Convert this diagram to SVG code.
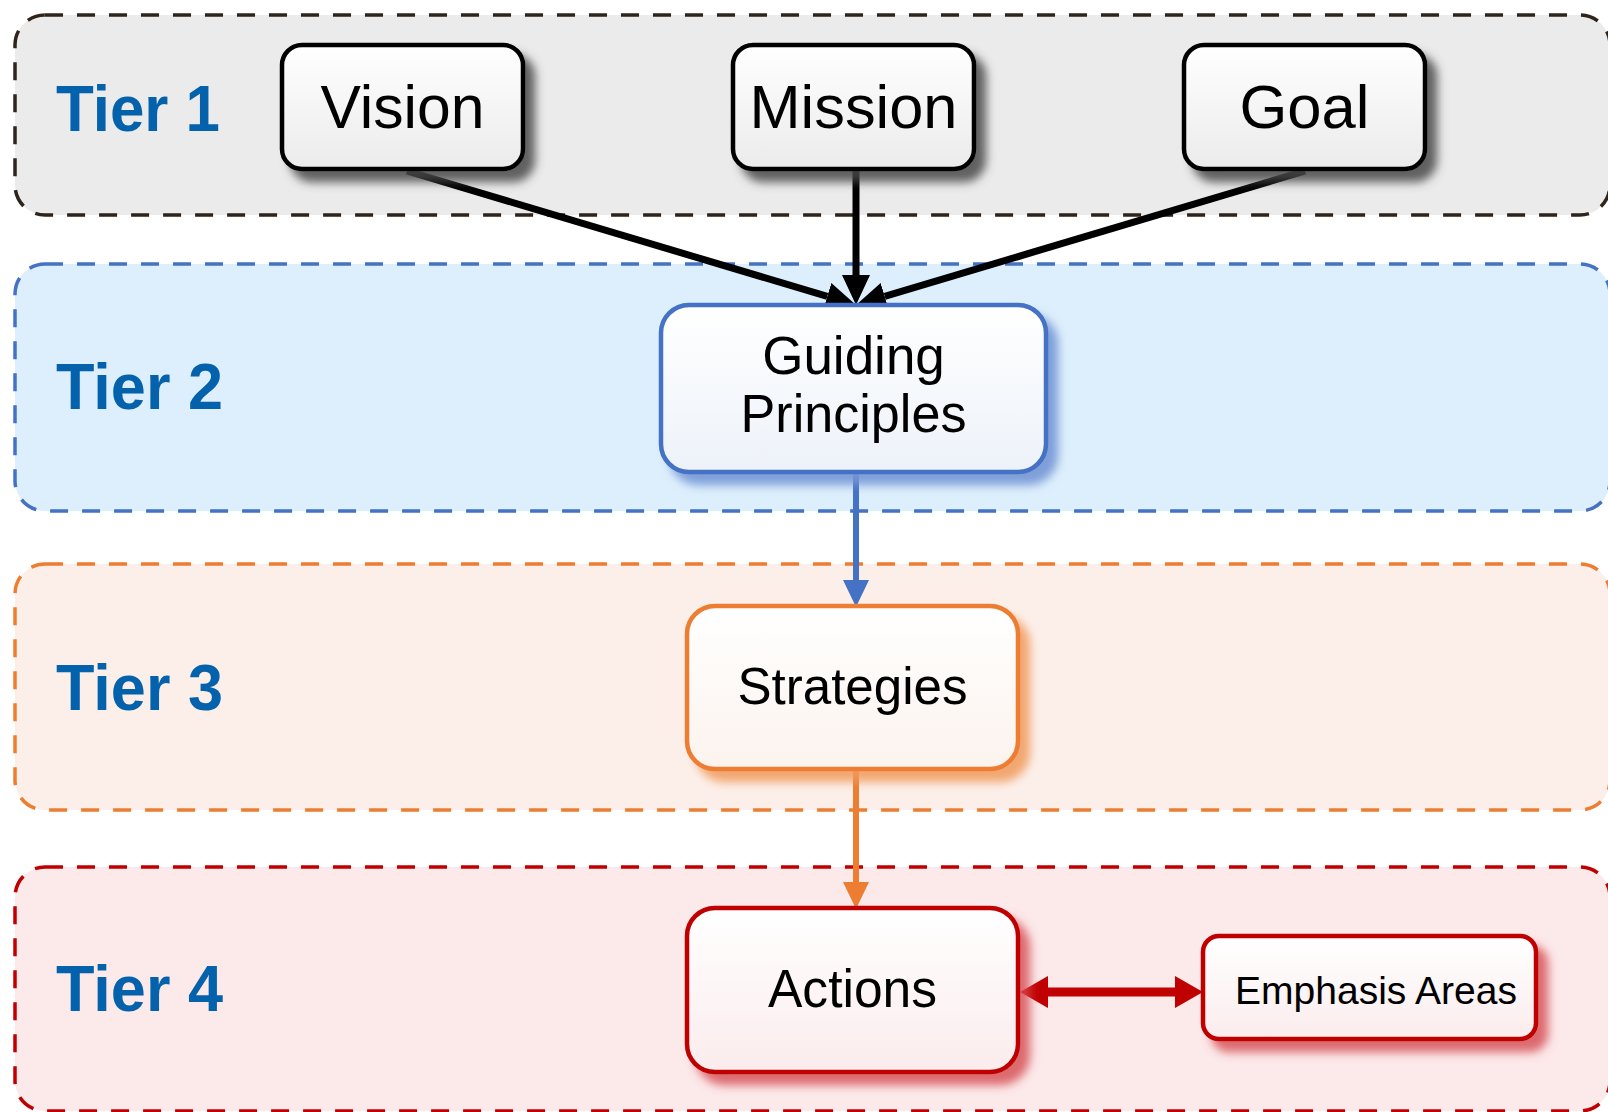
<svg xmlns="http://www.w3.org/2000/svg" width="1608" height="1112" viewBox="0 0 1608 1112">
<defs>
<style>
.tier{stroke-width:3.5;stroke-dasharray:18 14}
.tlabel{font-family:"Liberation Sans",Arial,sans-serif;font-weight:bold;font-size:64px;fill:#0462AC}
.ntext{font-family:"Liberation Sans",Arial,sans-serif;fill:#000;text-anchor:middle}
.conn{fill:none}
</style>
<linearGradient id="gGrey" x1="0" y1="0" x2="0" y2="1"><stop offset="0" stop-color="#ffffff"/><stop offset="1" stop-color="#ebebeb"/></linearGradient>
<linearGradient id="gBlue" x1="0" y1="0" x2="0" y2="1"><stop offset="0" stop-color="#ffffff"/><stop offset="1" stop-color="#edf2f9"/></linearGradient>
<linearGradient id="gOrange" x1="0" y1="0" x2="0" y2="1"><stop offset="0" stop-color="#ffffff"/><stop offset="1" stop-color="#fcf3ee"/></linearGradient>
<linearGradient id="gRed" x1="0" y1="0" x2="0" y2="1"><stop offset="0" stop-color="#ffffff"/><stop offset="1" stop-color="#fbeced"/></linearGradient>
<filter id="shGrey" x="-20%" y="-20%" width="150%" height="150%"><feDropShadow dx="10" dy="11" stdDeviation="5" flood-color="#4a4a4a" flood-opacity="0.85"/></filter>
<filter id="shBlue" x="-20%" y="-20%" width="150%" height="150%"><feDropShadow dx="10" dy="11" stdDeviation="5" flood-color="#7396d6" flood-opacity="0.9"/></filter>
<filter id="shOrange" x="-20%" y="-20%" width="150%" height="150%"><feDropShadow dx="10" dy="11" stdDeviation="5" flood-color="#f09a5c" flood-opacity="0.85"/></filter>
<filter id="shRed" x="-20%" y="-20%" width="150%" height="150%"><feDropShadow dx="10" dy="11" stdDeviation="5" flood-color="#d44a50" flood-opacity="0.8"/></filter>
<marker id="aBlack" markerUnits="userSpaceOnUse" markerWidth="32" markerHeight="30" refX="0" refY="14" orient="auto"><path d="M0,0 L30,14 L0,28 Z" fill="#000"/></marker>
<marker id="aBlue" markerUnits="userSpaceOnUse" markerWidth="28" markerHeight="28" refX="0" refY="13" orient="auto"><path d="M0,0 L27,13 L0,26 Z" fill="#4472C4"/></marker>
<marker id="aOrange" markerUnits="userSpaceOnUse" markerWidth="28" markerHeight="28" refX="0" refY="13" orient="auto"><path d="M0,0 L27,13 L0,26 Z" fill="#ED7D31"/></marker>
<marker id="aRed" markerUnits="userSpaceOnUse" markerWidth="30" markerHeight="34" refX="0" refY="16" orient="auto-start-reverse"><path d="M0,0 L28,16 L0,32 Z" fill="#C00000"/></marker>
</defs>

<g id="tiers">
<rect class="tier" x="15" y="15" width="1595" height="200" rx="30" fill="#ebebeb" stroke="#2e241b"/>
<rect class="tier" x="15" y="264" width="1595" height="247" rx="30" fill="#ddeffc" stroke="#4472C4"/>
<rect class="tier" x="15" y="564" width="1595" height="246" rx="30" fill="#fcefea" stroke="#ED7D31"/>
<rect class="tier" x="15" y="867" width="1595" height="244" rx="30" fill="#fce9ea" stroke="#C00000"/>
<text class="tlabel" x="56" y="131" textLength="164" lengthAdjust="spacingAndGlyphs">Tier 1</text>
<text class="tlabel" x="56" y="409" textLength="167" lengthAdjust="spacingAndGlyphs">Tier 2</text>
<text class="tlabel" x="56" y="710" textLength="167" lengthAdjust="spacingAndGlyphs">Tier 3</text>
<text class="tlabel" x="56" y="1011" textLength="167" lengthAdjust="spacingAndGlyphs">Tier 4</text>
</g>

<g id="connectors">
<line class="conn" x1="407" y1="171" x2="827.3" y2="296.4" stroke="#000" stroke-width="7" marker-end="url(#aBlack)"/>
<line class="conn" x1="856" y1="171" x2="856" y2="275" stroke="#000" stroke-width="7" marker-end="url(#aBlack)"/>
<line class="conn" x1="1305" y1="171" x2="884.7" y2="296.4" stroke="#000" stroke-width="7" marker-end="url(#aBlack)"/>
<line class="conn" x1="856" y1="472" x2="856" y2="580" stroke="#4472C4" stroke-width="6" marker-end="url(#aBlue)"/>
<line class="conn" x1="856" y1="769" x2="856" y2="882" stroke="#ED7D31" stroke-width="6" marker-end="url(#aOrange)"/>
<line class="conn" x1="1048" y1="992" x2="1175" y2="992" stroke="#C00000" stroke-width="9" marker-start="url(#aRed)" marker-end="url(#aRed)"/>
</g>

<g id="node-vision">
<rect x="282" y="45" width="241" height="124" rx="20" fill="url(#gGrey)" stroke="#000" stroke-width="4.5" filter="url(#shGrey)"/>
<text class="ntext" x="402.5" y="128" font-size="62" textLength="164" lengthAdjust="spacingAndGlyphs">Vision</text>
</g>
<g id="node-mission">
<rect x="733" y="45" width="241" height="124" rx="20" fill="url(#gGrey)" stroke="#000" stroke-width="4.5" filter="url(#shGrey)"/>
<text class="ntext" x="853.5" y="128" font-size="62" textLength="208" lengthAdjust="spacingAndGlyphs">Mission</text>
</g>
<g id="node-goal">
<rect x="1184" y="45" width="241" height="124" rx="20" fill="url(#gGrey)" stroke="#000" stroke-width="4.5" filter="url(#shGrey)"/>
<text class="ntext" x="1304.5" y="128" font-size="62" textLength="130" lengthAdjust="spacingAndGlyphs">Goal</text>
</g>
<g id="node-guiding-principles">
<rect x="661" y="305" width="385" height="167" rx="28" fill="url(#gBlue)" stroke="#4472C4" stroke-width="4.5" filter="url(#shBlue)"/>
<text class="ntext" x="853.5" y="374" font-size="53">Guiding</text>
<text class="ntext" x="853.5" y="432" font-size="53" textLength="226" lengthAdjust="spacingAndGlyphs">Principles</text>
</g>
<g id="node-strategies">
<rect x="687" y="606" width="331" height="163" rx="28" fill="url(#gOrange)" stroke="#ED7D31" stroke-width="4.5" filter="url(#shOrange)"/>
<text class="ntext" x="852.5" y="704" font-size="52" textLength="230" lengthAdjust="spacingAndGlyphs">Strategies</text>
</g>
<g id="node-actions">
<rect x="687" y="908" width="331" height="164" rx="28" fill="url(#gRed)" stroke="#C00000" stroke-width="4.5" filter="url(#shRed)"/>
<text class="ntext" x="852.5" y="1007" font-size="53" textLength="169" lengthAdjust="spacingAndGlyphs">Actions</text>
</g>
<g id="node-emphasis-areas">
<rect x="1203" y="936" width="333" height="103" rx="16" fill="url(#gRed)" stroke="#C00000" stroke-width="4.5" filter="url(#shRed)"/>
<text class="ntext" x="1376" y="1004" font-size="39" textLength="282" lengthAdjust="spacingAndGlyphs">Emphasis Areas</text>
</g>
</svg>
